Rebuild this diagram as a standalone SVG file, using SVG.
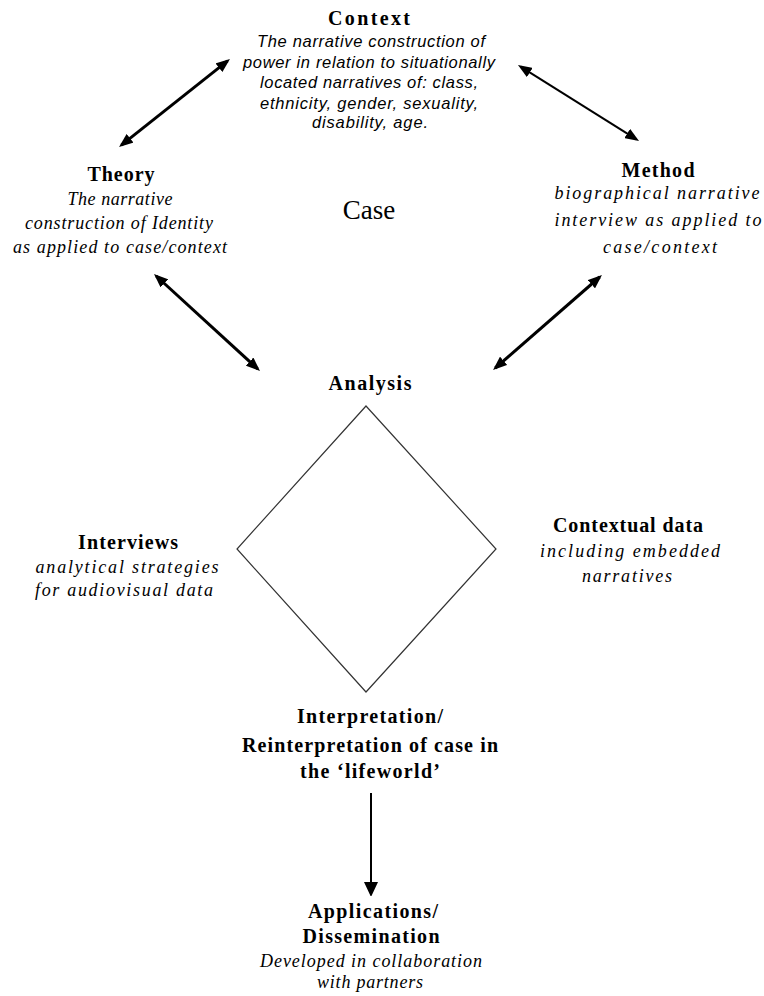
<svg xmlns="http://www.w3.org/2000/svg" width="764" height="996" viewBox="0 0 764 996">
<defs>
<style>
.t{font-family:"Liberation Serif","Times New Roman",serif;font-weight:bold;font-size:20px;fill:#000;text-anchor:middle}
.is{font-family:"Liberation Sans",Arial,sans-serif;font-style:italic;font-size:16.5px;fill:#000;text-anchor:middle}
.i{font-family:"Liberation Serif","Times New Roman",serif;font-style:italic;font-size:18px;fill:#000;text-anchor:middle}
.case{font-family:"Liberation Serif","Times New Roman",serif;font-size:27px;fill:#000;text-anchor:middle}
.c3{stroke:#000;stroke-width:3;fill:none}
.c2{stroke:#000;stroke-width:2;fill:none}
</style>
<marker id="ah" viewBox="0 0 14 11" markerUnits="userSpaceOnUse" markerWidth="14" markerHeight="11" refX="11" refY="5.5" orient="auto-start-reverse">
<path d="M0,0 L14,5.5 L0,11 z" fill="#000"/>
</marker>
<marker id="ah2" viewBox="0 0 14 14" markerUnits="userSpaceOnUse" markerWidth="14" markerHeight="14" refX="12" refY="7" orient="auto">
<path d="M0,0 L15,7 L0,14 z" fill="#000"/>
</marker>
</defs>
<rect width="764" height="996" fill="#fff"/>
<g id="connectors">
<line class="c3" x1="227.6" y1="60.9" x2="121.4" y2="145.1" marker-start="url(#ah)" marker-end="url(#ah)"/>
<line class="c2" x1="520.5" y1="66.6" x2="636.5" y2="139.4" marker-start="url(#ah)" marker-end="url(#ah)"/>
<line class="c3" x1="156.2" y1="276" x2="257.8" y2="369" marker-start="url(#ah)" marker-end="url(#ah)"/>
<line class="c3" x1="599.7" y1="277" x2="495.3" y2="368" marker-start="url(#ah)" marker-end="url(#ah)"/>
<line class="c2" x1="371" y1="793" x2="371" y2="894" marker-end="url(#ah2)"/>
</g>
<g id="context">
<text class="t" x="369" y="25" textLength="82" lengthAdjust="spacing">Context</text>
<text class="is" x="371" y="47" textLength="228" lengthAdjust="spacing">The narrative construction of</text>
<text class="is" x="369" y="68" textLength="252" lengthAdjust="spacing">power in relation to situationally</text>
<text class="is" x="369" y="88" textLength="218" lengthAdjust="spacing">located narratives of: class,</text>
<text class="is" x="369" y="109" textLength="218" lengthAdjust="spacing">ethnicity, gender, sexuality,</text>
<text class="is" x="370" y="128" textLength="116" lengthAdjust="spacing">disability, age.</text>
</g>
<g id="theory">
<text class="t" x="121" y="181" textLength="67" lengthAdjust="spacing">Theory</text>
<text class="i" x="120" y="205" textLength="105" lengthAdjust="spacing">The narrative</text>
<text class="i" x="119" y="229" textLength="188" lengthAdjust="spacing">construction of Identity</text>
<text class="i" x="120" y="253" textLength="214" lengthAdjust="spacing">as applied to case/context</text>
</g>
<g id="case">
<text class="case" x="369" y="219">Case</text>
</g>
<g id="method">
<text class="t" x="658" y="177" textLength="73" lengthAdjust="spacing">Method</text>
<text class="i" x="657" y="199" textLength="205" lengthAdjust="spacing">biographical narrative</text>
<text class="i" x="658" y="226" textLength="207" lengthAdjust="spacing">interview as applied to</text>
<text class="i" x="660" y="253" textLength="114" lengthAdjust="spacing">case/context</text>
</g>
<g id="analysis">
<text class="t" x="370" y="390" textLength="83" lengthAdjust="spacing">Analysis</text>
<polygon points="366,406 496,549 366,692 237,549" fill="none" stroke="#333" stroke-width="1.2"/>
</g>
<g id="interviews">
<text class="t" x="128" y="549" textLength="100" lengthAdjust="spacing">Interviews</text>
<text class="i" x="127" y="573" textLength="183" lengthAdjust="spacing">analytical strategies</text>
<text class="i" x="124" y="596" textLength="178" lengthAdjust="spacing">for audiovisual data</text>
</g>
<g id="contextual">
<text class="t" x="628" y="532" textLength="150" lengthAdjust="spacing">Contextual data</text>
<text class="i" x="630" y="557" textLength="180" lengthAdjust="spacing">including embedded</text>
<text class="i" x="627" y="582" textLength="90" lengthAdjust="spacing">narratives</text>
</g>
<g id="interpretation">
<text class="t" x="370" y="723" textLength="146" lengthAdjust="spacing">Interpretation/</text>
<text class="t" x="370" y="752" textLength="256" lengthAdjust="spacing">Reinterpretation of case in</text>
<text class="t" x="370" y="778" textLength="140" lengthAdjust="spacing">the ‘lifeworld’</text>
</g>
<g id="applications">
<text class="t" x="373" y="918" textLength="130" lengthAdjust="spacing">Applications/</text>
<text class="t" x="371" y="943" textLength="137" lengthAdjust="spacing">Dissemination</text>
<text class="i" x="371" y="967" textLength="222" lengthAdjust="spacing">Developed in collaboration</text>
<text class="i" x="370" y="988" textLength="106" lengthAdjust="spacing">with partners</text>
</g>
</svg>
